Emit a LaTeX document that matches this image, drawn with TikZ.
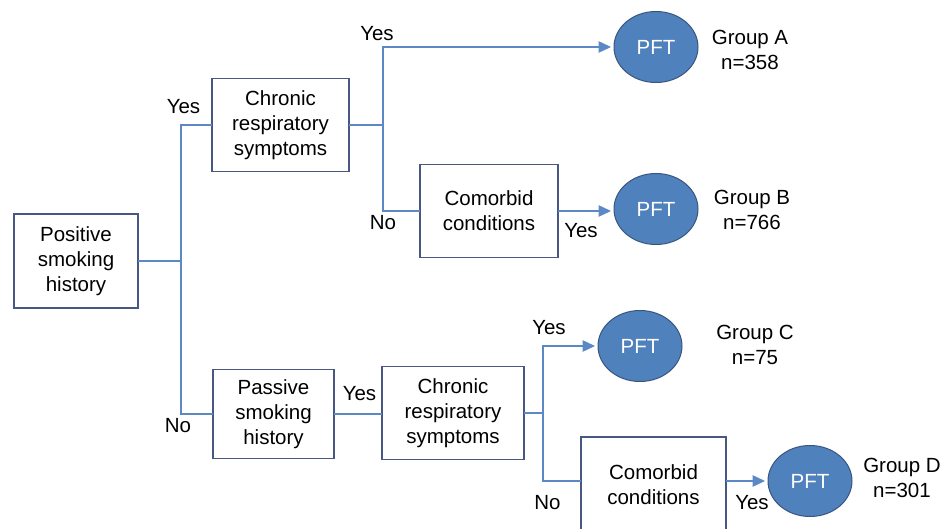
\documentclass[tikz,border=0pt]{standalone}
\usepackage{fontspec}
\setmainfont{Liberation Sans}
\usetikzlibrary{arrows.meta,shapes.geometric}
\definecolor{lineblue}{RGB}{92,137,198}
\definecolor{boxedge}{RGB}{72,88,130}
\definecolor{pftfill}{RGB}{79,129,189}
\definecolor{pftedge}{RGB}{58,84,128}
\begin{document}
\begin{tikzpicture}[x=1pt,y=-1pt,
  txt/.style={font=\fontsize{20.5}{25}\selectfont},
  box/.style={txt, draw=boxedge, line width=1.2pt, fill=white, align=center, inner sep=0pt, outer sep=0pt},
  pft/.style={txt, ellipse, draw=pftedge, line width=1pt, fill=pftfill, minimum width=84pt, minimum height=71pt, inner sep=0pt, outer sep=0pt, text=white},
  lbl/.style={txt, inner sep=0pt},
  grp/.style={txt, inner sep=0pt, align=center},
  conn/.style={draw=lineblue, line width=1.3pt},
  arr/.style={conn, shorten >=3pt, -{Triangle[length=12.5pt,width=11.5pt]}}
]
\useasboundingbox (0,0) rectangle (943,529);
\begin{scope}
\clip (0,0) rectangle (943,529);
% boxes
\node[box, minimum width=124pt, minimum height=94pt] (psh) at (76,261) {Positive\\smoking\\history};
\node[box, minimum width=137pt, minimum height=93pt] (crs1) at (280.5,125) {Chronic\\respiratory\\symptoms};
\node[box, minimum width=138pt, minimum height=93pt] (com1) at (489,211) {Comorbid\\conditions};
\node[box, minimum width=121pt, minimum height=89pt] (psv) at (273.5,414) {Passive\\smoking\\history};
\node[box, minimum width=142pt, minimum height=93pt] (crs2) at (453,413) {Chronic\\respiratory\\symptoms};
\node[box, minimum width=145pt, minimum height=96pt] (com2) at (653.5,485) {Comorbid\\conditions};
% PFT ellipses
\node[pft] (pftA) at (656,47) {PFT};
\node[pft] (pftB) at (656,209) {PFT};
\node[pft] (pftC) at (640,346) {PFT};
\node[pft] (pftD) at (810,481) {PFT};
% branch points
\coordinate (j1) at ([xshift=43pt]psh.east);
\coordinate (j2) at ([xshift=34pt]crs1.east);
\coordinate (j3) at ([xshift=19pt]crs2.east);
% connectors
\draw[conn] (psh.east) -- (j1);
\draw[conn] (j1) |- (crs1.west);
\draw[conn] (j1) |- (psv.west);
\draw[conn] (crs1.east) -- (j2);
\draw[arr] (j2) |- (pftA.west);
\draw[conn] (j2) |- (com1.west);
\draw[arr] (com1.east) -- (com1.east -| pftB.west);
\draw[conn] (psv.east) -- (psv.east -| crs2.west);
\draw[conn] (crs2.east) -- (j3);
\draw[arr] (j3) |- (pftC.west);
\draw[conn] (j3) |- (com2.west |- pftD.west);
\draw[arr] (com2.east |- pftD.west) -- (pftD.west);
% labels
\node[lbl] (l1) at (183.5,107) {Yes};
\node[lbl] (l2) at (178,425.5) {No};
\node[lbl] (l3) at (377,34) {Yes};
\node[lbl] (l4) at (383,222.5) {No};
\node[lbl] (l5) at (581,231) {Yes};
\node[lbl] (l6) at (359.5,394) {Yes};
\node[lbl] (l7) at (549,328) {Yes};
\node[lbl] (l8) at (547.5,502.5) {No};
\node[lbl] (l9) at (752,503) {Yes};
% groups
\node[grp] (gA) at (750,50) {Group A\\n=358};
\node[grp] (gB) at (752,210) {Group B\\n=766};
\node[grp] (gC) at (755,345) {Group C\\n=75};
\node[grp] (gD) at (902,478) {Group D\\n=301};
\end{scope}
\end{tikzpicture}
\end{document}
